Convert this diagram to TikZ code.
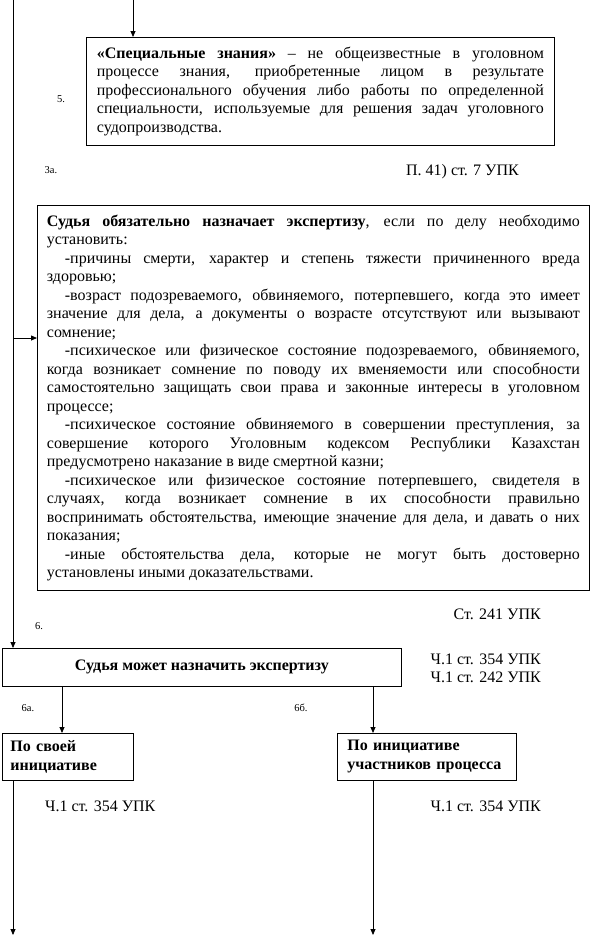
\documentclass[tikz,border=0pt]{standalone}
\usepackage{fontspec}
\setmainfont{Liberation Serif}
\usetikzlibrary{arrows.meta,calc}
\begin{document}
\begin{tikzpicture}[x=1pt,y=-1pt,
  box/.style={draw,line width=0.8pt,rectangle,inner sep=0pt},
  arr/.style={line width=0.8pt,-{Triangle[length=6pt,width=5pt]}},
  body/.style={font={\fontsize{16}{18.5}\selectfont\setlength{\parindent}{0pt}\hyphenpenalty10000\relax}},
  bfb/.style={font=\fontsize{16}{19}\selectfont\bfseries},
  lab/.style={font=\fontsize{10.5}{12}\selectfont, inner sep=0pt},
  refl/.style={font=\fontsize{16}{18}\selectfont, inner sep=0pt, align=right},
]
\useasboundingbox (0,0) rectangle (590,937);

% box 5
\node[box, anchor=north west, minimum width=468, minimum height=108, text width=447, align=justify, body] (def) at (86,37)
{{\bfseries «Специальные знания»} – не общеизвестные в уголовном\linebreak
процессе знания, приобретенные лицом в результате\linebreak
профессионального обучения либо работы по определенной\linebreak
специальности, используемые для решения задач уголовного\linebreak
судопроизводства.};

% big box
\node[box, anchor=north west, minimum width=552, minimum height=385, text width=533, align=justify, body] (big) at (37,205)
{{\bfseries Судья обязательно назначает экспертизу}, если по делу необходимо\linebreak
установить:\par
\hspace*{18pt}-причины смерти, характер и степень тяжести причиненного вреда\linebreak
здоровью;\par
\hspace*{18pt}-возраст подозреваемого, обвиняемого, потерпевшего, когда это имеет\linebreak
значение для дела, а документы о возрасте отсутствуют или вызывают\linebreak
сомнение;\par
\hspace*{18pt}-психическое или физическое состояние подозреваемого, обвиняемого,\linebreak
когда возникает сомнение по поводу их вменяемости или способности\linebreak
самостоятельно защищать свои права и законные интересы в уголовном\linebreak
процессе;\par
\hspace*{18pt}-психическое состояние обвиняемого в совершении преступления, за\linebreak
совершение которого Уголовным кодексом Республики Казахстан\linebreak
предусмотрено наказание в виде смертной казни;\par
\hspace*{18pt}-психическое или физическое состояние потерпевшего, свидетеля в\linebreak
случаях, когда возникает сомнение в их способности правильно\linebreak
воспринимать обстоятельства, имеющие значение для дела, и давать о них\linebreak
показания;\par
\hspace*{18pt}-иные обстоятельства дела, которые не могут быть достоверно\linebreak
установлены иными доказательствами.};

% judge may
\node[box, anchor=north west, minimum width=399, minimum height=38, bfb] (judge) at (2,648) {Судья может назначить экспертизу};

\node[box, anchor=north west, minimum width=131, minimum height=47, text width=115, align=left, bfb] (own) at (2,733) {По своей\\инициативе};
\node[box, anchor=north west, minimum width=179, minimum height=47, text width=159, align=left, bfb] (party) at (337,733) {По инициативе\\участников процесса};

% labels
\node[lab] (l5) at (61,99) {5.};
\node[lab] (l3a) at (51,170) {3а.};
\node[lab] (l6) at (39,626) {6.};
\node[lab] (l6a) at (28,708) {6а.};
\node[lab] (l6b) at (301,708) {6б.};
\node[refl, anchor=east] (r1) at (519,172) {П. 41) ст. 7 УПК};
\node[refl, anchor=east] (r2) at (541,614) {Ст. 241 УПК};
\node[refl, anchor=north east] (r3) at (541,654) {Ч.1 ст. 354 УПК\\Ч.1 ст. 242 УПК};
\node[refl, anchor=west] (r4) at (45,806) {Ч.1 ст. 354 УПК};
\node[refl, anchor=east] (r5) at (541,806) {Ч.1 ст. 354 УПК};

% connectors
\coordinate (topA) at (133,0);
\coordinate (topL) at (13,0);
\coordinate (jL) at (13,338);
\coordinate (xa) at (62,0);
\coordinate (xb) at (373,0);
\coordinate (endL) at (13,935);
\coordinate (endR) at (373,935);

\draw[arr] (topA) -- (topA |- def.north);
\draw[arr] (topL) -- (topL |- judge.north);
\draw[arr] (jL) -- (jL -| big.west);
\draw[arr] (judge.south -| xa) -- (own.north -| xa);
\draw[arr] (judge.south -| xb) -- (party.north -| xb);
\draw[arr] (own.south -| endL) -- (endL);
\draw[arr] (party.south -| endR) -- (endR);
\end{tikzpicture}
\end{document}
